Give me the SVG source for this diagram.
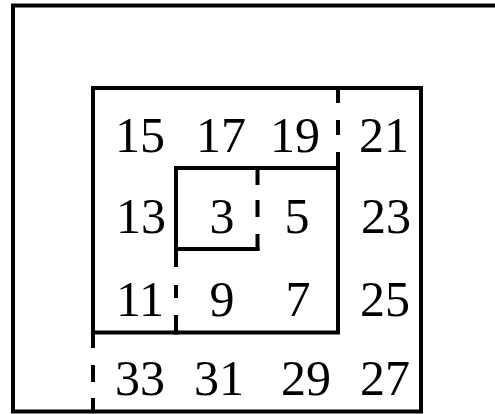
<svg xmlns="http://www.w3.org/2000/svg" width="495" height="414" viewBox="0 0 495 414">
<style>
.ln{fill:none;stroke:#000;stroke-width:4;stroke-linecap:square;stroke-linejoin:miter}
.ds{fill:none;stroke:#000;stroke-width:4;stroke-linecap:butt}
.t{font-family:"Liberation Serif","Times New Roman",serif;font-size:50px;fill:#000;text-anchor:middle}
</style>
<rect width="495" height="414" fill="#fff"/>
<g id="walls">
<path class="ln" d="M497 5.5 H13 V411.5 H421 V88 H93 V332.5"/>
<path class="ln" d="M176 265 V168 H338 V332.5 H93"/>
<path class="ln" d="M176 249 H257.5"/>
<path class="ln" d="M176 317 V332.5"/>
</g>
<g id="openings">
<path class="ds" d="M338 88 V103 M338 120 V135 M338 152 V168"/>
<path class="ds" d="M257.5 168 V185 M257.5 200 V217 M257.5 234 V250.5"/>
<path class="ds" d="M176 285 V298"/>
<path class="ds" d="M93 333 V348 M93 365 V382 M93 398 V413"/>
</g>
<g id="labels">
<text class="t" x="140" y="152">15</text>
<text class="t" x="221" y="152">17</text>
<text class="t" x="295" y="152">19</text>
<text class="t" x="384" y="152">21</text>
<text class="t" x="141" y="233">13</text>
<text class="t" x="222" y="233">3</text>
<text class="t" x="297" y="233">5</text>
<text class="t" x="386" y="233">23</text>
<text class="t" x="140" y="316">11</text>
<text class="t" x="222" y="316">9</text>
<text class="t" x="298" y="316">7</text>
<text class="t" x="385" y="316">25</text>
<text class="t" x="140" y="395">33</text>
<text class="t" x="219" y="395">31</text>
<text class="t" x="306" y="395">29</text>
<text class="t" x="385" y="395">27</text>
</g>
</svg>
